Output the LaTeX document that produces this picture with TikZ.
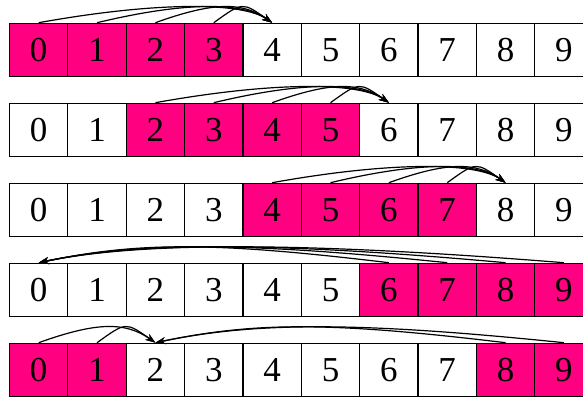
\documentclass[tikz,border=0pt]{standalone}
\usepackage{fontspec}
\setmainfont{Liberation Serif}
\usetikzlibrary{arrows.meta}
\definecolor{slotpink}{RGB}{255,0,128}

\begin{document}
\begin{tikzpicture}[x=1pt,y=1pt,>={Stealth[length=10pt,width=7pt]},
  slot/.style={draw,line width=1.2pt,minimum width=58.36pt,minimum height=53pt,
    inner sep=0pt,font=\rmfamily\fontsize{35}{38}\selectfont},
  free/.style={slot,fill=white},
  busy/.style={slot,fill=slotpink},
  link/.style={->,line width=1.2pt}]
  \useasboundingbox (0,0) rectangle (583,397);
  % five snapshots of the ring, window of four moves by two
  \foreach \r in {0,...,4}
    \foreach \c in {0,...,9} {
      \pgfmathtruncatemacro\on{mod(\c-2*\r+10,10)<4}
      \ifnum\on=1 \def\st{busy}\else\def\st{free}\fi
      \node[\st] (c\r-\c) at ({38.7+58.36*\c},{347.2-80*\r}) {\c};
    }
  % row 0: 0..3 -> 4
  \foreach \s in {0,...,3}
    \draw[link] (c0-\s.north) .. controls +({0.5*(4-\s)*58.36},21) and +(-30,21) .. (c0-4.north);
  % row 1: 2..5 -> 6
  \foreach \s in {2,...,5}
    \draw[link] (c1-\s.north) .. controls +({0.5*(6-\s)*58.36},21) and +(-30,21) .. (c1-6.north);
  % row 2: 4..7 -> 8
  \foreach \s in {4,...,7}
    \draw[link] (c2-\s.north) .. controls +({0.5*(8-\s)*58.36},21) and +(-30,21) .. (c2-8.north);
  % row 3: 6..9 -> 0
  \foreach \s in {6,...,9}
    \draw[link] (c3-\s.north) .. controls +({-0.5*\s*58.36},21) and +(100,21) .. (c3-0.north);
  % row 4: 0,1 and 8,9 -> 2
  \foreach \s in {0,1}
    \draw[link] (c4-\s.north) .. controls +({0.5*(2-\s)*58.36},21) and +(-30,21) .. (c4-2.north);
  \foreach \s in {8,9}
    \draw[link] (c4-\s.north) .. controls +({-0.5*(\s-2)*58.36},21) and +(100,21) .. (c4-2.north);
\end{tikzpicture}
\end{document}
